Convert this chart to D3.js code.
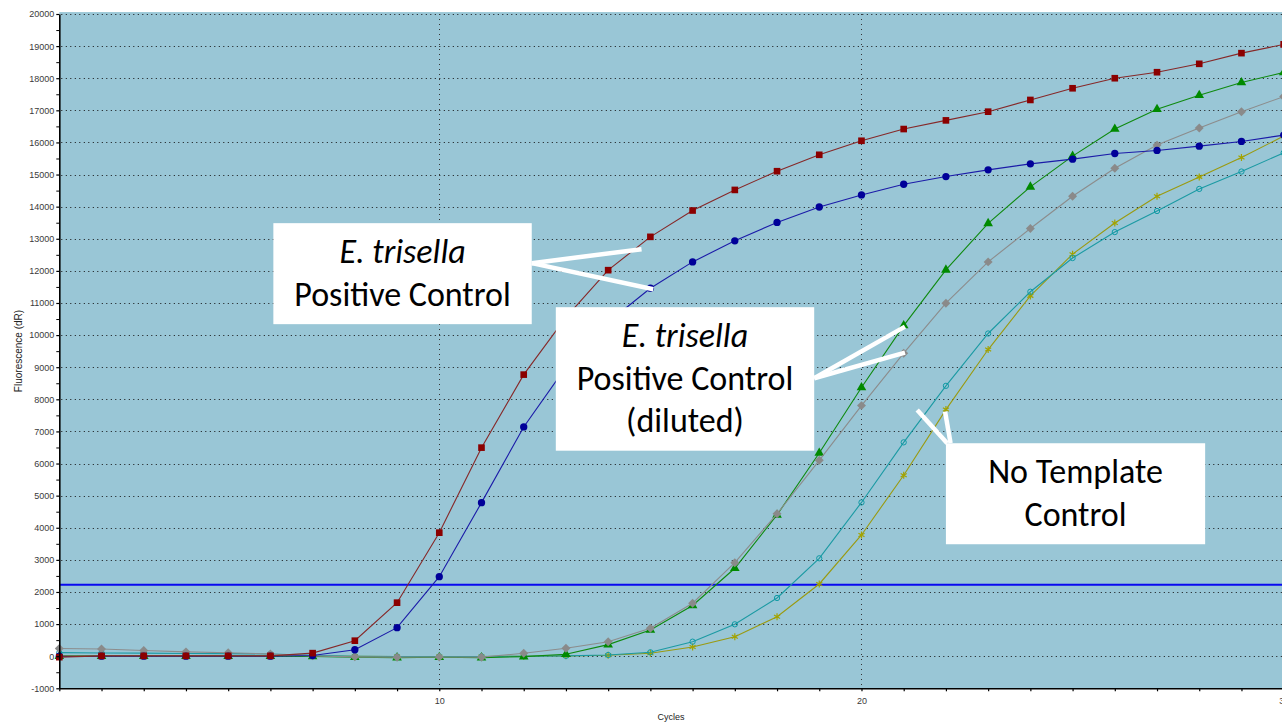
<!DOCTYPE html>
<html>
<head>
<meta charset="utf-8">
<script src="https://cdn.jsdelivr.net/npm/d3@7"></script>
<style>
  html, body { margin:0; padding:0; background:#fff; overflow:hidden; }
  svg { display:block; }
  .tick text { font-family:"Liberation Sans", Arial, sans-serif; font-size:9px; fill:#3a3a3a; }
  .axis-title { font-family:"Liberation Sans", Arial, sans-serif; font-size:10px; fill:#222; }
  .note { font-family:Carlito, Lato, "Open Sans", sans-serif; font-size:34px; fill:#000; }
</style>
</head>
<body>
<svg id="chart" width="1282" height="724"></svg>
<script>
/* qPCR amplification plot — fluorescence (dR) per cycle */

const cycles = d3.range(1, 31);

const redSq    = [-30, 10, 10, 10, 10, 10, 95, 483, 1667, 3847, 6495, 8769, 10550, 12022, 13060, 13880, 14521, 15104, 15615, 16052, 16417, 16687, 16958, 17323, 17687, 18000, 18187, 18448, 18781, 19052];
const blueCirc = [0, 0, 0, 0, 0, 0, 20, 200, 888, 2477, 4782, 7140, 9000, 10400, 11460, 12280, 12935, 13510, 13990, 14365, 14698, 14937, 15146, 15333, 15479, 15656, 15750, 15885, 16031, 16229];
const greenTri = [0, 0, 0, 0, 0, 0, -10, -30, -46, -34, -46, -15, 60, 360, 814, 1580, 2738, 4399, 6330, 8370, 10296, 12031, 13480, 14615, 15573, 16417, 17031, 17469, 17865, 18177];
const grayDia  = [240, 222, 175, 135, 109, 69, 10, -20, -30, -25, -30, 90, 246, 452, 869, 1650, 2913, 4435, 6100, 7804, 9436, 10994, 12280, 13320, 14323, 15198, 15917, 16448, 16958, 17427];
const tealOpen = [110, 100, 95, 85, 80, 70, 30, 0, -10, -10, -10, 0, 10, 37, 121, 452, 993, 1813, 3049, 4788, 6660, 8420, 10050, 11350, 12400, 13208, 13865, 14552, 15094, 15677];
const oliveAst = [15, 15, 15, 10, 10, 10, 5, 0, -10, -10, -10, 0, 10, 30, 90, 285, 608, 1231, 2249, 3776, 5635, 7680, 9550, 11221, 12520, 13490, 14323, 14927, 15531, 16198];

const threshold = 2225;

const yMajorTicks = d3.range(-1000, 20001, 1000);
const yMinorTicks = d3.range(-500, 20000, 1000);
const xLabelTicks = [10, 20, 30];

const noteText = [
  [['E. trisella', true], ['Positive Control', false]],
  [['E. trisella', true], ['Positive Control', false], ['(diluted)', false]],
  [['No Template', false], ['Control', false]]
];

// series drawn bottom → top
const series = [
  { vals:oliveAst, line:'#9a9a10', fill:'#a3a300', sym:'asterisk', size:34 },
  { vals:tealOpen, line:'#1b9aa3', fill:'none',    sym:'circle',   size:22, stroke:'#0e9aa5' },
  { vals:greenTri, line:'#0f8a0f', fill:'#008a00', sym:'triangle', size:40 },
  { vals:grayDia,  line:'#8c8c8c', fill:'#8a8a8a', sym:'diamond',  size:40 },
  { vals:blueCirc, line:'#1b1ba8', fill:'#000099', sym:'circle',   size:42 },
  { vals:redSq,    line:'#862828', fill:'#8b0000', sym:'square',   size:44 }
];

const svg = d3.select('#chart');
const x = d3.scaleLinear().domain([1, 30]).range([59.3, 59.3 + 29 * 42.22]);
const y = d3.scaleLinear().domain([-1000, 20000]).range([688.3, 14]);

// plot background
svg.append('rect')
  .attr('x', x(1)).attr('y', y(20060))
  .attr('width', x(30) - x(1) + 2).attr('height', y(-1000) - y(20060))
  .attr('fill', '#99c6d6');

// dotted grid
const grid = svg.append('g').attr('stroke', '#111').attr('stroke-width', 1).attr('stroke-dasharray', '1,3.5');
grid.selectAll('.hg').data(d3.range(0, 20001, 1000)).enter().append('line')
  .attr('x1', x(1) + 2).attr('x2', x(30)).attr('y1', d => Math.round(y(d)) + 0.5).attr('y2', d => Math.round(y(d)) + 0.5);
grid.selectAll('.vg').data(xLabelTicks).enter().append('line')
  .attr('y1', y(20000)).attr('y2', y(-1000)).attr('x1', d => Math.round(x(d)) + 0.5).attr('x2', d => Math.round(x(d)) + 0.5)
  .attr('stroke', '#333').attr('stroke-dasharray', '1,4');

// threshold
svg.append('line')
  .attr('x1', x(1)).attr('x2', x(30)).attr('y1', y(threshold)).attr('y2', y(threshold))
  .attr('stroke', '#0a0af0').attr('stroke-width', 2);

// curves
const line = d3.line().x((d, i) => x(cycles[i])).y(d => y(d));
const symType = { square:d3.symbolSquare, circle:d3.symbolCircle, triangle:d3.symbolTriangle, diamond:d3.symbolSquare,
  asterisk:d3.symbolAsterisk || d3.symbolCross };

series.forEach(s => {
  const g = svg.append('g');
  g.append('path').attr('d', line(s.vals)).attr('fill', 'none').attr('stroke', s.line).attr('stroke-width', 1.1);
  const sym = d3.symbol().type(symType[s.sym]).size(s.size);
  g.selectAll('path.m').data(s.vals).enter().append('path')
    .attr('class', 'm')
    .attr('transform', (d, i) => 'translate(' + x(cycles[i]) + ',' + y(d) + ')' + (s.sym === 'diamond' ? ' rotate(45)' : ''))
    .attr('d', sym)
    .attr('fill', s.sym === 'asterisk' ? 'none' : s.fill)
    .attr('stroke', s.sym === 'asterisk' ? s.fill : (s.stroke || 'none'))
    .attr('stroke-width', s.sym === 'asterisk' ? 1.2 : 1);
});

// axes
const yAxis = svg.append('g').attr('transform', 'translate(' + x(1) + ',0)')
  .call(d3.axisLeft(y).tickValues(yMajorTicks).tickFormat(d => String(d)).tickSizeInner(3).tickSizeOuter(0).tickPadding(2));
svg.append('g').attr('transform', 'translate(' + x(1) + ',0)')
  .call(d3.axisLeft(y).tickValues(yMinorTicks).tickFormat('').tickSizeInner(3).tickSizeOuter(0))
  .select('.domain').remove();
const xAxis = svg.append('g').attr('transform', 'translate(0,' + y(-1000) + ')')
  .call(d3.axisBottom(x).tickValues(cycles).tickFormat(d => xLabelTicks.includes(d) ? String(d) : '').tickSizeInner(3).tickSizeOuter(0).tickPadding(6));
[yAxis, xAxis].forEach(a => {
  a.select('.domain').attr('stroke', '#000').attr('stroke-width', 1.6);
  a.selectAll('.tick line').attr('stroke', '#000').attr('stroke-width', 1.2);
});
svg.selectAll('.tick line').attr('stroke', '#000');

svg.append('text').attr('class', 'axis-title')
  .attr('transform', 'translate(22,351) rotate(-90)').attr('text-anchor', 'middle').text('Fluorescence (dR)');
svg.append('text').attr('class', 'axis-title').style('font-size', '9px')
  .attr('x', 671).attr('y', 720).attr('text-anchor', 'middle').text('Cycles');

// callouts: box span in cycles, top in dR, leader lines in (cycle, dR)
const callouts = [
  { c0:6.07,  c1:12.19, top:13486, legs:[[[12.19, 12240], [14.79, 12676]], [[12.19, 12240], [15.07, 11430]]] },
  { c0:12.76, c1:18.88, top:10869, legs:[[[18.88, 8657], [21.03, 10265]], [[18.88, 8657], [21.03, 9455]]] },
  { c0:22.00, c1:28.14, top:6632,  legs:[[[22.03, 6632], [21.32, 7670]], [[22.11, 6632], [21.98, 7617]]] }
];

callouts.forEach((c, k) => {
  const g = svg.append('g');
  c.legs.forEach(l => g.append('line')
    .attr('x1', x(l[0][0])).attr('y1', y(l[0][1])).attr('x2', x(l[1][0])).attr('y2', y(l[1][1]))
    .attr('stroke', '#fff').attr('stroke-width', 4.5));
  const lines = noteText[k];
  const x0 = x(c.c0), x1 = x(c.c1), top = y(c.top);
  g.append('rect').attr('x', x0).attr('y', top).attr('width', x1 - x0).attr('height', 16 + 42.5 * lines.length).attr('fill', '#fff');
  lines.forEach((t, i) => g.append('text').attr('class', 'note')
    .attr('x', (x0 + x1) / 2).attr('y', top + 40 + 42.5 * i).attr('text-anchor', 'middle')
    .style('font-style', t[1] ? 'italic' : 'normal').text(t[0]));
});
</script>
</body>
</html>
